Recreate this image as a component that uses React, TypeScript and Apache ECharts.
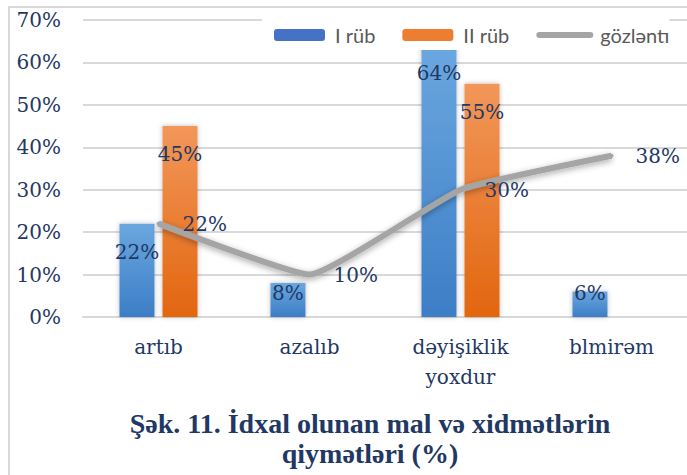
import React, { useEffect, useRef } from 'react';
import * as echarts from 'echarts';

const categories = ['artıb', 'azalıb', 'dəyişiklik yoxdur', 'blmirəm'];
const seriesNames = ['I rüb', 'II rüb', 'gözləntı'];
const q1Values = [22, 8, 64, 6];
const q2Values: (number | null)[] = [45, null, 55, null];
const expectedValues = [22, 10, 30, 38];
const yMin = 0;
const yMax = 70;
const yInterval = 10;
const titleLines = ['Şək. 11. İdxal olunan mal və xidmətlərin', 'qiymətləri (%)'];

const NAVY = '#1f3864';
const SERIF = '"DejaVu Serif", serif';

export default function App() {
  const ref = useRef<HTMLDivElement>(null);
  useEffect(() => {
    if (!ref.current) return;
    const chart = echarts.init(ref.current, undefined, { renderer: 'svg' });
    const barLabel = (v: number | null) =>
      v !== null && v < 10 ? { position: 'insideBottom', distance: 14 } : undefined;
    const option: any = {
      animation: false,
      backgroundColor: '#fff',
      grid: { left: 83, top: 20, width: 606, height: 297 },
      legend: {
        left: 262,
        top: 17,
        width: 440,
        padding: [8, 0, 5, 12],
        backgroundColor: '#fff',
        itemWidth: 51,
        itemHeight: 12,
        itemGap: 27,
        textStyle: { fontFamily: 'Lato', fontSize: 20, color: '#595959', lineHeight: 20, padding: [0, 0, 0, 5] },
        data: [
          { name: seriesNames[0], itemStyle: { color: '#4472c4' } },
          { name: seriesNames[1], itemStyle: { color: '#ed7d31' } },
          {
            name: seriesNames[2],
            itemStyle: { opacity: 0 },
            lineStyle: { color: '#a5a5a5', width: 6, cap: 'round' },
          },
        ],
      },
      xAxis: {
        type: 'category',
        data: categories,
        axisLine: { lineStyle: { color: '#d9d9d9', width: 2 } },
        axisTick: { show: false },
        axisLabel: {
          fontFamily: SERIF,
          fontSize: 20,
          color: NAVY,
          lineHeight: 30,
          margin: 15,
          interval: 0,
          formatter: (s: string) => s.replace(' ', '\n'),
        },
      },
      yAxis: {
        type: 'value',
        min: yMin,
        max: yMax,
        interval: yInterval,
        axisLine: { show: false },
        axisTick: { show: false },
        splitLine: { lineStyle: { color: '#d9d9d9', width: 2 } },
        axisLabel: {
          fontFamily: SERIF,
          fontSize: 20,
          color: NAVY,
          margin: 22,
          formatter: (v: number) => v + '%',
        },
      },
      series: [
        {
          name: seriesNames[0],
          type: 'bar',
          barWidth: 35,
          barGap: '23%',
          z: 2,
          itemStyle: {
            color: new echarts.graphic.LinearGradient(0, 0, 0, 1, [
              { offset: 0, color: '#6ba7df' },
              { offset: 1, color: '#3c7ec6' },
            ]),
            shadowBlur: 5,
            shadowColor: 'rgba(0,0,0,0.25)',
          },
          label: {
            show: true,
            position: 'insideTop',
            distance: 18,
            fontFamily: SERIF,
            fontSize: 20,
            color: NAVY,
            formatter: (p: any) => p.value + '%',
          },
          data: q1Values.map((v) => ({ value: v, label: barLabel(v) })),
        },
        {
          name: seriesNames[1],
          type: 'bar',
          barWidth: 35,
          barGap: '23%',
          z: 2,
          itemStyle: {
            color: new echarts.graphic.LinearGradient(0, 0, 0, 1, [
              { offset: 0, color: '#f2975a' },
              { offset: 1, color: '#e2660f' },
            ]),
            shadowBlur: 5,
            shadowColor: 'rgba(0,0,0,0.25)',
          },
          label: {
            show: true,
            position: 'insideTop',
            distance: 18,
            fontFamily: SERIF,
            fontSize: 20,
            color: NAVY,
            formatter: (p: any) => p.value + '%',
          },
          data: q2Values.map((v) => (v === null ? '-' : { value: v, label: barLabel(v) })),
        },
        {
          name: seriesNames[2],
          type: 'line',
          smooth: 0.12,
          symbol: 'circle',
          symbolSize: 4,
          showSymbol: true,
          z: 3,
          lineStyle: {
            color: '#a5a5a5',
            width: 6,
            shadowBlur: 6,
            shadowColor: 'rgba(0,0,0,0.35)',
            shadowOffsetY: 2,
          },
          itemStyle: { color: '#a5a5a5' },
          label: {
            show: true,
            position: 'right',
            distance: 22,
            fontFamily: SERIF,
            fontSize: 20,
            color: NAVY,
            formatter: (p: any) => p.value + '%',
          },
          data: expectedValues,
        },
      ],
      graphic: [
        {
          type: 'rect',
          shape: { x: 9, y: 7, width: 700, height: 490 },
          style: { fill: 'none', stroke: '#d9d9d9', lineWidth: 2 },
          silent: true,
          z: 0,
        },
        {
          type: 'text',
          x: 370,
          y: 438,
          style: {
            text: titleLines.join('\n'),
            font: 'bold 28px "Liberation Serif", serif',
            fill: NAVY,
            textAlign: 'center',
            textVerticalAlign: 'middle',
            lineHeight: 30,
          },
        },
      ],
    };
    chart.setOption(option);
    return () => chart.dispose();
  }, []);
  return (
    <div
      ref={ref}
      style={{ position: 'absolute', left: 0, top: 0, width: 687, height: 475 }}
    />
  );
}
